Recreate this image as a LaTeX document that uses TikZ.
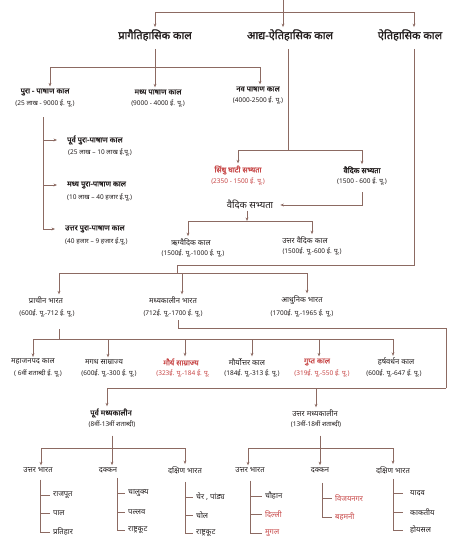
\documentclass[tikz,border=0pt]{standalone}
\usepackage{fontspec}
\setmainfont{Noto Sans}[Script=Devanagari,BoldFont={Noto Sans},BoldFeatures={FakeBold=1.6}]
\usetikzlibrary{arrows.meta,calc}
\definecolor{lc}{RGB}{140,106,98}
\definecolor{rd}{RGB}{200,72,72}
\definecolor{tx}{RGB}{35,30,30}
\begin{document}
\begin{tikzpicture}[x=1pt,y=-1pt,
  ln/.style={draw=lc,line width=0.6pt},
  arr/.style={ln,-{Stealth[length=3.5pt,width=2.8pt]}},
  big/.style={font=\bfseries\fontsize{11}{12}\selectfont,text=tx,inner xsep=0pt,inner ysep=2pt},
  hd/.style={font=\bfseries\fontsize{7.6}{9}\selectfont,text=tx,inner xsep=0pt,inner ysep=2pt},
  rg/.style={font=\fontsize{7.6}{9}\selectfont,text=tx,inner xsep=0pt,inner ysep=2pt},
  md/.style={font=\fontsize{9.5}{11}\selectfont,text=tx,inner xsep=0pt,inner ysep=1pt},
  dt/.style={font=\fontsize{6.5}{7}\selectfont,text=tx,inner sep=0pt},
  lft/.style={anchor=west,inner xsep=10pt},
  lftd/.style={anchor=west},
  itm/.style={font=\fontsize{7.6}{9}\selectfont,text=tx,anchor=west,inner xsep=3pt,inner ysep=1pt},
  red/.style={text=rd}
]
\fill[white] (0,0) rectangle (455,548);
\useasboundingbox (0,0) rectangle (455,548);

% ---------- top level ----------
\coordinate (top) at (283,0);
\coordinate (jt) at (283,12);
\node[big] (t1) at (155,35) {प्रागैतिहासिक काल};
\node[big] (t2) at (290,35) {आद्य-ऐतिहासिक काल};
\node[big] (t3) at (410,35) {ऐतिहासिक काल};
\draw[ln] (top) -- (jt);
\draw[arr] (jt) -| (t1.north);
\draw[arr] (jt) -- (t2.north -| jt);
\draw[arr] (jt) -| (t3.north -| 414,0);

% ---------- prehistoric ----------
\coordinate (j1) at (155,67);
\node[hd] (pura) at (45,92) {पुरा - पाषाण काल};
\node[dt] (purad) at (45,103) {(25 लाख - 9000 ई. पू.)};
\node[hd] (madh) at (158,92) {मध्य पाषाण काल};
\node[dt] (madhd) at (158,103) {(9000 - 4000 ई. पू.)};
\node[hd] (nav) at (258,89) {नव पाषाण काल};
\node[dt] (navd) at (258,100) {(4000-2500 ई. पू.)};
\draw[ln,shorten <=6pt] (t1.south) -- (j1);
\draw[arr] (j1) -| (pura.north -| 50,0);
\draw[arr] (j1) -- (madh.north -| j1);
\draw[arr] (j1) -| (nav.north -| 260,0);

\node[hd,lft] (pp1) at (57,140) {पूर्व पुरा-पाषाण काल};
\node[dt,lftd] (pp1d) at (68,152) {(25 लाख – 10 लाख ई.पू.)};
\node[hd,lft] (pp2) at (57,185) {मध्य पुरा-पाषाण काल};
\node[dt,lftd] (pp2d) at (67,197) {(10 लाख – 40 हजार ई.पू.)};
\node[hd,lft] (pp3) at (55,229) {उत्तर पुरा-पाषाण काल};
\node[dt,lftd] (pp3d) at (65,241) {(40 हजार – 9 हजार ई.पू.)};
\draw[arr,shorten <=10pt] (purad.south -| 43,0) |- (pp3.west);
\draw[arr] (pp1.west -| 43,0) -- (pp1.west);
\draw[arr] (pp2.west -| 43,0) -- (pp2.west);

% ---------- proto-historic ----------
\coordinate (j2) at (288,150);
\draw[ln,shorten <=6pt] (t2.south -| j2) -- (j2);
\node[hd,red] (sindhu) at (238,170) {सिंधु घाटी सभ्यता};
\node[dt,red] (sindhud) at (238,181) {(2350 - 1500 ई. पू.)};
\node[hd] (ved1) at (362,170) {वैदिक सभ्यता};
\node[dt] (ved1d) at (362,181) {(1500 - 600 ई. पू.)};
\draw[arr] (j2) -| (sindhu.north);
\draw[arr] (j2) -| (ved1.north);
\node[md] (ved2) at (250,205) {वैदिक सभ्यता};
\draw[arr,shorten <=7pt,shorten >=7pt] (ved1d.south) |- (ved2.east);
\coordinate (j5) at (247,221);
\draw[arr] (ved2.south -| j5) -- (j5);
\node[rg] (rig) at (191,242) {ऋग्वैदिक काल};
\node[dt] (rigd) at (193,253) {(1500ई. पू.-1000 ई. पू.)};
\node[rg] (uttv) at (305,240) {उत्तर वैदिक काल};
\node[dt] (uttvd) at (312,251) {(1500ई. पू.-600 ई. पू.)};
\draw[arr] (j5) -| (rig.north -| 188,0);
\draw[arr] (j5) -| (uttv.north -| 312,0);

% ---------- historic ----------
\coordinate (j3) at (414,265);
\coordinate (j4) at (177,273);
\draw[ln,shorten <=6pt] (t3.south -| j3) -- (j3) -| (j4);
\node[rg] (prach) at (46,300) {प्राचीन भारत};
\node[dt] (prachd) at (47,313) {(600ई. पू.-712 ई. पू.)};
\node[rg] (madhk) at (173,300) {मध्यकालीन भारत};
\node[dt] (madhkd) at (173,313) {(712ई. पू.-1700 ई. पू.)};
\node[rg] (adhu) at (302,300) {आधुनिक भारत};
\node[dt] (adhud) at (302,313) {(1700ई. पू.-1965 ई. पू.)};
\draw[arr] (j4) -| (prach.north -| 59,0);
\draw[arr] (j4) -| (madhk.north -| 182,0);
\draw[arr] (j4) -| (adhu.north -| 307,0);

% ancient India
\coordinate (j6) at (59,339);
\draw[ln,shorten <=12pt] (prachd.south -| j6) -- (j6);
\node[rg] (m1) at (33,362) {महाजनपद काल};
\node[dt] (m1d) at (38,373) {( 6वीं शताब्दी ई. पू.)};
\node[rg] (m2) at (104,362) {मगध साम्राज्य};
\node[dt] (m2d) at (109,373) {(600ई. पू.-300 ई. पू.)};
\node[hd,red] (m3) at (181,362) {मौर्य साम्राज्य};
\node[dt,red] (m3d) at (183,373) {(323ई. पू.-184 ई. पू.};
\node[rg] (m4) at (247,362) {मौर्योत्तर काल};
\node[dt] (m4d) at (252,373) {(184ई. पू.-313 ई. पू.)};
\node[hd,red] (m5) at (317,362) {गुप्त काल};
\node[dt,red] (m5d) at (322,373) {(319ई. पू.-550 ई. पू.)};
\node[rg] (m6) at (396,362) {हर्षवर्धन काल};
\node[dt] (m6d) at (394,373) {(600ई. पू.-647 ई. पू.)};
\draw[arr] (j6) -| (m1.north -| 33,0);
\draw[arr] (j6) -| (m2.north -| 108,0);
\draw[arr] (j6) -| (m3.north -| 185,0);
\draw[arr] (j6) -| (m4.north -| 252,0);
\draw[arr] (j6) -| (m5.north -| 319,0);
\draw[arr] (j6) -| (m6.north -| 393,0);

% medieval India
\coordinate (k1) at (446,328);
\coordinate (j7) at (446,388);
\draw[ln,shorten <=3pt] (madhkd.south -| 178,0) |- (k1) -- (j7);
\node[hd] (pm) at (111,413) {पूर्व मध्यकालीन};
\node[dt] (pmd) at (112,424) {(8वीं-13वीं शताब्दी)};
\node[rg] (um) at (315,413) {उत्तर मध्यकालीन};
\node[dt] (umd) at (316,424) {(13वीं-18वीं शताब्दी)};
\draw[arr] (j7) -| (pm.north -| 107,0);
\draw[arr] (j7) -| (um.north -| 316,0);

\coordinate (j8) at (112,448);
\coordinate (j9) at (320,448);
\draw[ln,shorten <=8pt] (pmd.south -| j8) -- (j8);
\draw[ln,shorten <=8pt] (umd.south -| j9) -- (j9);
\node[rg] (r1) at (38,470) {उत्तर भारत};
\node[rg] (r2) at (108,470) {दक्कन};
\node[rg] (r3) at (185,470) {दक्षिण भारत};
\node[rg] (r4) at (250,470) {उत्तर भारत};
\node[rg] (r5) at (320,470) {दक्कन};
\node[rg] (r6) at (393,470) {दक्षिण भारत};
\draw[arr] (j8) -| (r1.north -| 41,0);
\draw[arr] (j8) -- (r2.north -| j8);
\draw[arr] (j8) -| (r3.north -| 185,0);
\draw[arr] (j9) -| (r4.north -| 248,0);
\draw[arr] (j9) -- (r5.north -| j9);
\draw[arr] (j9) -| (r6.north -| 393,0);

% sub-lists
\node[itm] (a1) at (50,495) {राजपूत};
\node[itm] (a2) at (50,513) {पाल};
\node[itm] (a3) at (50,532) {प्रतिहार};
\draw[ln,shorten <=5pt] (r1.south -| 40,0) |- (a3.west);
\draw[ln] (a1.west -| 40,0) -- (a1.west);
\draw[ln] (a2.west -| 40,0) -- (a2.west);

\node[itm] (b1) at (125,493) {चालुक्य};
\node[itm] (b2) at (125,512) {पल्लव};
\node[itm] (b3) at (125,530) {राष्ट्रकूट};
\draw[ln,shorten <=3pt] (r2.south -| 117,0) |- (b3.west);
\draw[ln] (b1.west -| 117,0) -- (b1.west);
\draw[ln] (b2.west -| 117,0) -- (b2.west);

\node[itm] (c1) at (193,497) {चेर , पांड्य};
\node[itm] (c2) at (193,515) {चोल};
\node[itm] (c3) at (193,533) {राष्ट्रकूट};
\draw[ln,shorten <=6pt] (r3.south -| 185,0) |- (c3.west);
\draw[ln] (c1.west -| 185,0) -- (c1.west);
\draw[ln] (c2.west -| 185,0) -- (c2.west);

\node[itm] (d1) at (262,496) {चौहान};
\node[itm,red] (d2) at (262,514) {दिल्ली};
\node[itm,red] (d3) at (262,533) {मुगल};
\draw[ln,shorten <=6pt] (r4.south -| 250,0) |- (d3.west);
\draw[ln] (d1.west -| 250,0) -- (d1.west);
\draw[ln] (d2.west -| 250,0) -- (d2.west);

\node[itm,red] (e1) at (332,498) {विजयनगर};
\node[itm,red] (e2) at (332,517) {बहमनी};
\draw[ln,shorten <=8pt] (r5.south -| 322,0) |- (e2.west);
\draw[ln] (e1.west -| 322,0) -- (e1.west);

\node[itm,inner xsep=7pt] (f1) at (403,493) {यादव};
\node[itm,inner xsep=7pt] (f2) at (403,512) {काकतीय};
\node[itm,inner xsep=7pt] (f3) at (403,530) {होयसल};
\draw[ln,shorten <=3pt] (r6.south -| 393,0) |- (f3.west);
\draw[ln] (f1.west -| 393,0) -- (f1.west);
\draw[ln] (f2.west -| 393,0) -- (f2.west);
\end{tikzpicture}
\end{document}
